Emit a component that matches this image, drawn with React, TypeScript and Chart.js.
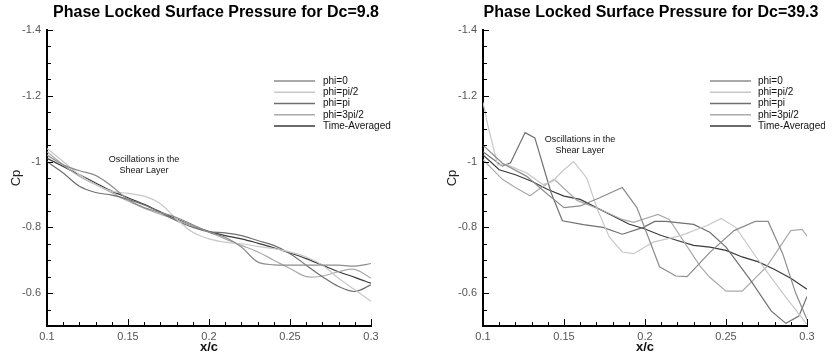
import React, { useEffect, useRef } from "react";
import { Chart, registerables } from "chart.js";

Chart.register(...registerables);

const FONT = "'Liberation Sans', Arial, Helvetica, sans-serif";

// ---- shared labels / ticks ----
const seriesLabels = ["phi=0", "phi=pi/2", "phi=pi", "phi=3pi/2", "Time-Averaged"];
const seriesColors = ["#8c8c8c", "#c8c8c8", "#707070", "#aaaaaa", "#3a3a3a"];
const xTickValues = [0.1, 0.15, 0.2, 0.25, 0.3];
const xTickLabels = ["0.1", "0.15", "0.2", "0.25", "0.3"];
const yTickValues = [-1.4, -1.2, -1.0, -0.8, -0.6];
const yTickLabels = ["-1.4", "-1.2", "-1", "-0.8", "-0.6"];
const leftTitle = "Phase Locked Surface Pressure for Dc=9.8";
const rightTitle = "Phase Locked Surface Pressure for Dc=39.3";
const noteLines = ["Oscillations in the", "Shear Layer"];
const xAxisTitle = "x/c";
const yAxisTitle = "Cp";

// ---- Dc = 9.8 (smooth curves) ----
const lowX = [0.10, 0.11, 0.12, 0.13, 0.14, 0.15, 0.16, 0.17, 0.18, 0.19, 0.20, 0.21, 0.22, 0.23, 0.24, 0.25, 0.26, 0.27, 0.28, 0.29, 0.30];
const lowPhi0 = [-1.02, -0.99, -0.972, -0.958, -0.925, -0.885, -0.86, -0.845, -0.83, -0.808, -0.785, -0.77, -0.74, -0.695, -0.686, -0.685, -0.685, -0.685, -0.685, -0.682, -0.69];
const lowPhiHalf = [-1.04, -1.0, -0.96, -0.93, -0.91, -0.903, -0.895, -0.872, -0.825, -0.785, -0.765, -0.755, -0.75, -0.742, -0.735, -0.725, -0.71, -0.685, -0.645, -0.61, -0.575];
const lowPhiPi = [-1.0, -0.965, -0.925, -0.906, -0.898, -0.885, -0.868, -0.845, -0.82, -0.8, -0.787, -0.783, -0.775, -0.76, -0.745, -0.72, -0.685, -0.65, -0.62, -0.605, -0.625];
const lowPhi3Half = [-1.03, -0.99, -0.955, -0.93, -0.905, -0.88, -0.858, -0.84, -0.823, -0.805, -0.785, -0.765, -0.745, -0.726, -0.7, -0.675, -0.65, -0.652, -0.665, -0.672, -0.645];
const lowMean = [-1.01, -0.985, -0.96, -0.935, -0.91, -0.89, -0.87, -0.847, -0.825, -0.805, -0.787, -0.775, -0.765, -0.752, -0.738, -0.722, -0.705, -0.685, -0.665, -0.648, -0.63];

// ---- Dc = 39.3 (polylines) ----
const highPhi0X = [0.10, 0.112, 0.127, 0.14, 0.15, 0.16, 0.172, 0.186, 0.195, 0.209, 0.219, 0.226, 0.24, 0.255, 0.268, 0.276, 0.285, 0.293, 0.30];
const highPhi0 = [-1.05, -0.995, -0.955, -0.9, -0.86, -0.865, -0.89, -0.921, -0.86, -0.68, -0.652, -0.65, -0.724, -0.79, -0.818, -0.818, -0.72, -0.6, -0.52];
const highPhiHalfX = [0.10, 0.103, 0.109, 0.115, 0.127, 0.137, 0.143, 0.150, 0.156, 0.164, 0.171, 0.178, 0.186, 0.193, 0.205, 0.222, 0.238, 0.247, 0.256, 0.27, 0.285, 0.30];
const highPhiHalf = [-1.18, -1.11, -0.99, -0.99, -0.965, -0.93, -0.94, -0.975, -1.0, -0.95, -0.85, -0.77, -0.725, -0.72, -0.755, -0.775, -0.805, -0.827, -0.8, -0.7, -0.6, -0.505];
const highPhiPiX = [0.10, 0.112, 0.117, 0.126, 0.132, 0.142, 0.149, 0.162, 0.174, 0.186, 0.199, 0.206, 0.213, 0.23, 0.24, 0.25, 0.265, 0.278, 0.287, 0.295, 0.30];
const highPhiPi = [-1.03, -0.986, -0.996, -1.088, -1.072, -0.906, -0.82, -0.808, -0.8, -0.779, -0.8, -0.818, -0.818, -0.809, -0.785, -0.74, -0.64, -0.545, -0.508, -0.53, -0.59];
const highPhi3HalfX = [0.10, 0.112, 0.12, 0.129, 0.136, 0.144, 0.158, 0.172, 0.186, 0.193, 0.208, 0.215, 0.234, 0.24, 0.25, 0.26, 0.275, 0.29, 0.297, 0.30];
const highPhi3Half = [-1.006, -0.946, -0.921, -0.896, -0.921, -0.946, -0.882, -0.855, -0.824, -0.815, -0.839, -0.824, -0.682, -0.648, -0.606, -0.606, -0.68, -0.79, -0.794, -0.773];
const highMeanX = [0.10, 0.11, 0.12, 0.13, 0.14, 0.15, 0.16, 0.17, 0.18, 0.19, 0.20, 0.21, 0.22, 0.23, 0.24, 0.25, 0.26, 0.27, 0.28, 0.29, 0.30];
const highMean = [-1.02, -0.975, -0.96, -0.94, -0.915, -0.895, -0.885, -0.86, -0.835, -0.81, -0.795, -0.775, -0.76, -0.745, -0.74, -0.73, -0.71, -0.695, -0.672, -0.645, -0.612];

type Geo = {
  width: number;
  yAxisWidth: number;
  padRight: number;
  yTitlePad: number;
  title: string;
  titleX: number;
  noteX: number;
  noteY: number;
  legX1: number;
  legX2: number;
  legTextX: number;
};

const leftGeo: Geo = {
  width: 412, yAxisWidth: 47, padRight: 41, yTitlePad: 9, title: leftTitle, titleX: 216,
  noteX: 144, noteY: 160, legX1: 274, legX2: 315, legTextX: 323,
};
const rightGeo: Geo = {
  width: 413, yAxisWidth: 71, padRight: 18, yTitlePad: 33, title: rightTitle, titleX: 239,
  noteX: 168, noteY: 140, legX1: 298, legX2: 339, legTextX: 346,
};

function pts(xs: number[], ys: number[]) {
  return xs.map((x, i) => ({ x, y: ys[i] }));
}

const decorPlugin = {
  id: "decor",
  afterDraw(chart: any, _args: any, opts: any) {
    const g: Geo = opts.geo;
    const ctx = chart.ctx as CanvasRenderingContext2D;
    const xs = chart.scales.x;
    const ys = chart.scales.y;
    const area = chart.chartArea;
    ctx.save();
    // inward tick marks
    ctx.strokeStyle = "#000";
    ctx.lineWidth = 1;
    for (let i = 0; i <= 20; i++) {
      const px = Math.round(xs.getPixelForValue(0.1 + i * 0.01)) + 0.5;
      const len = i % 5 === 0 ? 7 : 4;
      ctx.beginPath();
      ctx.moveTo(px, area.bottom);
      ctx.lineTo(px, area.bottom - len);
      ctx.stroke();
    }
    for (let i = 0; i <= 18; i++) {
      const py = Math.round(ys.getPixelForValue(-1.4 + i * 0.05)) + 0.5;
      const len = i % 4 === 0 ? 6 : 4;
      ctx.beginPath();
      ctx.moveTo(area.left, py);
      ctx.lineTo(area.left + len, py);
      ctx.stroke();
    }
    // title
    ctx.fillStyle = "#000";
    ctx.font = `bold 16px ${FONT}`;
    ctx.textAlign = "center";
    ctx.textBaseline = "middle";
    ctx.fillText(g.title, g.titleX, 13);
    // annotation
    ctx.font = `9px ${FONT}`;
    ctx.fillStyle = "#111";
    noteLines.forEach((t, i) => ctx.fillText(t, g.noteX, g.noteY + i * 10.5));
    // legend
    ctx.textAlign = "left";
    ctx.font = `10px ${FONT}`;
    chart.data.datasets.forEach((ds: any, i: number) => {
      const y = 81 + i * 11.25;
      ctx.strokeStyle = ds.borderColor;
      ctx.lineWidth = 1.5;
      ctx.beginPath();
      ctx.moveTo(g.legX1, y);
      ctx.lineTo(g.legX2, y);
      ctx.stroke();
      ctx.fillStyle = "#111";
      ctx.fillText(ds.label, g.legTextX, y);
    });
    ctx.restore();
  },
};

function buildConfig(g: Geo, series: { x: number[]; y: number[] }[], tension: number): any {
  return {
    type: "line",
    data: {
      datasets: series.map((s, i) => ({
        label: seriesLabels[i],
        data: pts(s.x, s.y),
        borderColor: seriesColors[i],
        backgroundColor: seriesColors[i],
        borderWidth: 1.2,
        pointRadius: 0,
        tension,
        fill: false,
      })),
    },
    options: {
      responsive: false,
      animation: false,
      events: [],
      layout: { padding: { top: 30, right: g.padRight, left: 0, bottom: 0 } },
      plugins: {
        legend: { display: false },
        title: { display: false },
        tooltip: { enabled: false },
        decor: { geo: g },
      },
      scales: {
        x: {
          type: "linear",
          min: 0.1,
          max: 0.3,
          afterBuildTicks: (s: any) => {
            s.ticks = xTickValues.map((v) => ({ value: v }));
          },
          afterFit: (s: any) => {
            s.height = 32;
          },
          grid: { display: false, drawTicks: false },
          border: { display: true, color: "#000", width: 2 },
          ticks: {
            padding: 4,
            color: "#555",
            maxRotation: 0,
            autoSkip: false,
            font: { family: FONT, size: 11 },
            callback: (_v: any, i: number) => xTickLabels[i],
          },
          title: {
            display: true,
            text: xAxisTitle,
            color: "#111",
            font: { family: FONT, size: 13, weight: "bold" },
            padding: { top: 0, bottom: 3 },
          },
        },
        y: {
          type: "linear",
          reverse: true,
          min: -1.4,
          max: -0.5,
          afterBuildTicks: (s: any) => {
            s.ticks = yTickValues.map((v) => ({ value: v }));
          },
          afterFit: (s: any) => {
            s.width = g.yAxisWidth;
          },
          grid: { display: false, drawTicks: false },
          border: { display: true, color: "#000", width: 2 },
          ticks: {
            padding: 6,
            color: "#555",
            font: { family: FONT, size: 11 },
            callback: (_v: any, i: number) => yTickLabels[i],
          },
          title: {
            display: true,
            text: yAxisTitle,
            color: "#222",
            font: { family: FONT, size: 13 },
            padding: { top: g.yTitlePad, bottom: 0 },
          },
        },
      },
    },
    plugins: [decorPlugin],
  };
}

function PanelChart({ geo, series, tension }: { geo: Geo; series: { x: number[]; y: number[] }[]; tension: number }) {
  const ref = useRef<HTMLCanvasElement | null>(null);
  useEffect(() => {
    if (!ref.current) return;
    const chart = new Chart(ref.current, buildConfig(geo, series, tension));
    return () => chart.destroy();
  }, []);
  return <canvas ref={ref} width={geo.width} height={358} style={{ display: "block", width: geo.width, height: 358 }} />;
}

export default function App() {
  const lowSeries = [
    { x: lowX, y: lowPhi0 },
    { x: lowX, y: lowPhiHalf },
    { x: lowX, y: lowPhiPi },
    { x: lowX, y: lowPhi3Half },
    { x: lowX, y: lowMean },
  ];
  const highSeries = [
    { x: highPhi0X, y: highPhi0 },
    { x: highPhiHalfX, y: highPhiHalf },
    { x: highPhiPiX, y: highPhiPi },
    { x: highPhi3HalfX, y: highPhi3Half },
    { x: highMeanX, y: highMean },
  ];
  return (
    <div style={{ position: "fixed", left: 0, top: 0, width: 825, height: 358, background: "#fff", overflow: "hidden" }}>
      <div style={{ position: "absolute", left: 0, top: 0 }}>
        <PanelChart geo={leftGeo} series={lowSeries} tension={0.35} />
      </div>
      <div style={{ position: "absolute", left: 412, top: 0 }}>
        <PanelChart geo={rightGeo} series={highSeries} tension={0} />
      </div>
    </div>
  );
}
